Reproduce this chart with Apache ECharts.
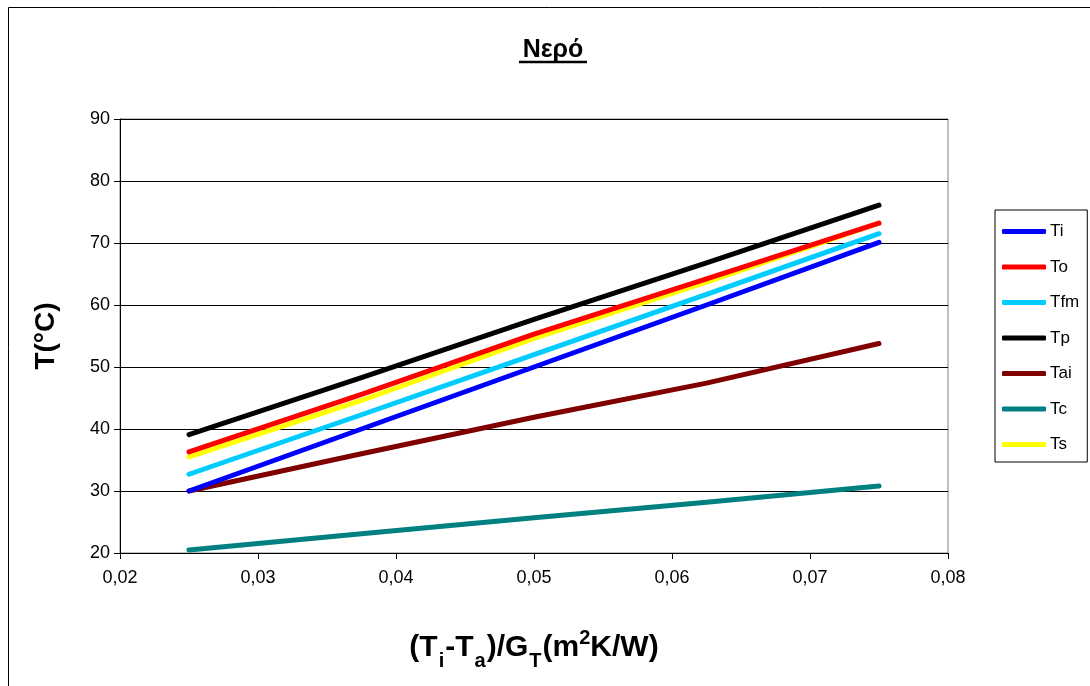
<!DOCTYPE html>
<html>
<head>
<meta charset="utf-8">
<script src="https://cdn.jsdelivr.net/npm/echarts@6/dist/echarts.min.js"></script>
<style>
  html, body { margin: 0; padding: 0; background: #fff; }
  #chart { width: 1090px; height: 686px; }
</style>
</head>
<body>
<div id="chart"></div>
<script>
// Temperatures (°C) versus the reduced temperature (Ti-Ta)/GT for water
const xValues = [0.025, 0.0375, 0.05, 0.0625, 0.075];
const Ti  = [30.0, 40.0, 50.0, 60.0, 70.1];
const To  = [36.3, 45.6, 55.3, 64.2, 73.2];
const Tfm = [32.7, 42.3, 52.0, 61.7, 71.5];
const Tp  = [39.1, 48.3, 57.7, 66.8, 76.1];
const Tai = [30.0, 36.0, 41.9, 47.4, 53.8];
const Tc  = [20.5, 23.1, 25.7, 28.2, 30.8];
const Ts  = [35.5, 44.6, 54.6, 63.7, 73.2];

const seriesNames = ['Ti', 'To', 'Tfm', 'Tp', 'Tai', 'Tc', 'Ts'];
const seriesData = [Ti, To, Tfm, Tp, Tai, Tc, Ts];
const seriesColors = ['#0000ff', '#ff0000', '#00ccff', '#000000', '#800000', '#008080', '#ffff00'];

const FONT = '"Liberation Sans", Arial, sans-serif';

const chart = echarts.init(document.getElementById('chart'), null, { renderer: 'canvas' });

const series = seriesNames.map((name, i) => ({
  name: name,
  type: 'line',
  data: xValues.map((x, j) => [x, seriesData[i][j]]),
  symbol: 'none',
  smooth: false,
  lineStyle: { color: seriesColors[i], width: 5, cap: 'round', join: 'round' },
  itemStyle: { color: seriesColors[i] },
  emphasis: { disabled: true },
  z: 10 - i
}));

const option = {
  backgroundColor: '#ffffff',
  animation: false,
  textStyle: { fontFamily: FONT },
  title: {
    text: 'Νερό',
    left: 548,
    top: 33,
    textAlign: 'center',
    textStyle: { fontFamily: FONT, fontSize: 25, fontWeight: 'bold', color: '#000' }
  },
  graphic: [
    // outer frame of the chart area
    { type: 'rect', shape: { x: 8.5, y: 7.5, width: 1100, height: 700 },
      style: { fill: 'none', stroke: '#000', lineWidth: 1 }, silent: true, z: 0 },
    // title underline
    { type: 'line', shape: { x1: 519, y1: 62, x2: 587, y2: 62 },
      style: { stroke: '#000', lineWidth: 2.5 }, silent: true }
  ],
  legend: {
    orient: 'vertical',
    left: 995,
    top: 210,
    width: 85,
    padding: [13, 8, 9, 7],
    borderColor: '#000',
    borderWidth: 1,
    icon: 'roundRect',
    itemWidth: 44,
    itemHeight: 5,
    itemGap: 18.5,
    data: seriesNames,
    textStyle: { fontFamily: FONT, fontSize: 17, color: '#000', padding: [0, 0, 0, -1] }
  },
  grid: {
    left: 120,
    right: 142,
    top: 119,
    bottom: 133,
    show: true,
    borderColor: '#808080',
    borderWidth: 1,
    containLabel: false
  },
  xAxis: {
    type: 'value',
    min: 0.02,
    max: 0.08,
    interval: 0.01,
    name: '{b|(T}{s|i}{b|-T}{s|a}{b|)/G}{s|T}{b|(m}{p|2}{b|K/W)}',
    nameLocation: 'middle',
    nameGap: 74,
    nameTextStyle: {
      rich: {
        b: { fontFamily: FONT, fontSize: 30, fontWeight: 'bold', color: '#000', verticalAlign: 'bottom', lineHeight: 36 },
        s: { fontFamily: FONT, fontSize: 20, fontWeight: 'bold', color: '#000', verticalAlign: 'bottom', lineHeight: 36, padding: [0, 1, -8, 1] },
        p: { fontFamily: FONT, fontSize: 20, fontWeight: 'bold', color: '#000', verticalAlign: 'bottom', lineHeight: 36, padding: [0, 0, 15, 0] }
      }
    },
    axisLine: { show: true, onZero: false, lineStyle: { color: '#000', width: 1 } },
    axisTick: { show: true, inside: false, length: 6, lineStyle: { color: '#000' } },
    axisLabel: {
      margin: 16,
      fontFamily: FONT,
      fontSize: 18,
      color: '#000',
      formatter: v => v.toFixed(2).replace('.', ',')
    },
    splitLine: { show: false }
  },
  yAxis: {
    type: 'value',
    min: 20,
    max: 90,
    interval: 10,
    name: 'T(°C)',
    nameLocation: 'middle',
    nameGap: 60,
    nameRotate: 90,
    nameTextStyle: { fontFamily: FONT, fontSize: 28, fontWeight: 'bold', color: '#000' },
    axisLine: { show: true, onZero: false, lineStyle: { color: '#000', width: 1 } },
    axisTick: { show: true, inside: false, length: 6, lineStyle: { color: '#000' } },
    axisLabel: { margin: 10, fontFamily: FONT, fontSize: 18, color: '#000' },
    splitLine: { show: true, lineStyle: { color: '#000', width: 1 } }
  },
  series: series
};

chart.setOption(option);
</script>
</body>
</html>
